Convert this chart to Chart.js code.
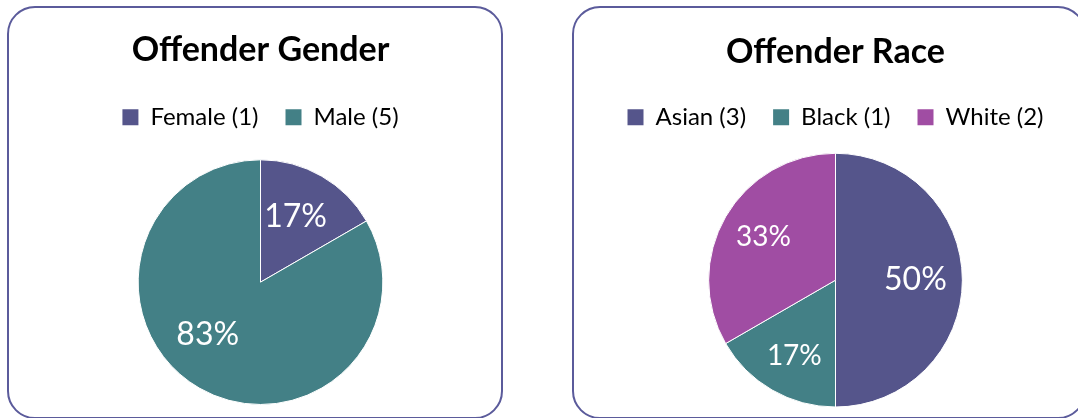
<!DOCTYPE html>
<html>
<head>
<meta charset="utf-8">
<script src="https://cdn.jsdelivr.net/npm/chart.js@4.4.1/dist/chart.umd.min.js"></script>
<style>
  html, body { margin: 0; padding: 0; background: #fff; overflow: hidden; }
  body { width: 1078px; height: 418px; position: relative; }
  .panel {
    position: absolute; top: 6px; height: 413px;
    box-sizing: border-box; border: 2px solid #5b5b9b; border-radius: 28px;
  }
  .panel canvas { position: absolute; left: 0; top: 0; }
</style>
</head>
<body>
<div class="panel" style="left:7px; width:496px;"><canvas id="genderChart" width="492" height="409"></canvas></div>
<div class="panel" style="left:572px; width:514px;"><canvas id="raceChart" width="510" height="409"></canvas></div>
<script>
// Data
const genderLabels = ["Female", "Male"];
const genderCounts = [1, 5];
const raceLabels = ["Asian", "Black", "White"];
const raceCounts = [3, 1, 2];

const PURPLE = "#55558b";
const TEAL = "#438086";
const MAGENTA = "#a04da3";
const FONT = "Lato, 'Open Sans', sans-serif";

// white % labels inside slices
const sliceLabels = {
  id: "sliceLabels",
  afterDatasetsDraw(chart, args, opts) {
    const ctx = chart.ctx;
    const meta = chart.getDatasetMeta(0);
    const data = chart.data.datasets[0].data;
    const total = data.reduce((a, b) => a + b, 0);
    ctx.save();
    ctx.fillStyle = "#fff";
    ctx.textAlign = "center";
    ctx.textBaseline = "middle";
    meta.data.forEach((arc, i) => {
      const mid = (arc.startAngle + arc.endAngle) / 2 + (opts.shift[i] || 0) * Math.PI / 180;
      const r = arc.outerRadius * opts.dist[i];
      ctx.font = opts.sizes[i] + "px " + FONT;
      ctx.fillText(Math.round(data[i] / total * 100) + "%", arc.x + Math.cos(mid) * r, arc.y + Math.sin(mid) * r);
    });
    ctx.restore();
  }
};

function makePie(el, labels, counts, colors, cfg) {
  return new Chart(el, {
    type: "pie",
    data: {
      labels: labels,
      datasets: [{
        data: counts,
        backgroundColor: colors,
        borderColor: "#ffffff",
        borderWidth: 1
      }]
    },
    plugins: [sliceLabels],
    options: {
      responsive: false,
      animation: false,
      events: [],
      layout: { padding: { left: cfg.padLeft, right: 0, top: 0, bottom: cfg.padBottom } },
      plugins: {
        title: {
          display: true,
          text: cfg.title,
          color: "#000",
          font: { family: FONT, size: 34, weight: "bold", lineHeight: 1.2 },
          padding: { top: cfg.titleTop, bottom: cfg.titleBottom }
        },
        // empty spacer between legend and pie
        subtitle: {
          display: true,
          text: "",
          weight: 500,
          font: { size: 10, lineHeight: 1 },
          padding: { top: 0, bottom: cfg.gap - 10 }
        },
        legend: {
          position: "top",
          labels: {
            color: "#000",
            font: { family: FONT, size: 24 },
            boxWidth: 16,
            boxHeight: 16,
            padding: 27,
            generateLabels(chart) {
              const ds = chart.data.datasets[0];
              return chart.data.labels.map((l, i) => ({
                text: l + " (" + ds.data[i] + ")",
                fillStyle: ds.backgroundColor[i],
                strokeStyle: ds.backgroundColor[i],
                lineWidth: 0,
                index: i
              }));
            }
          }
        },
        tooltip: { enabled: false },
        sliceLabels: cfg.labelOpts
      }
    }
  });
}

makePie(document.getElementById("genderChart"), genderLabels, genderCounts, [PURPLE, TEAL], {
  title: "Offender Gender",
  padLeft: 11, padBottom: 12,
  titleTop: 21.5, titleBottom: 8, gap: 20,
  labelOpts: { dist: [0.61, 0.61], shift: [-2, 15], sizes: [32, 32] }
});

makePie(document.getElementById("raceChart"), raceLabels, raceCounts, [PURPLE, TEAL, MAGENTA], {
  title: "Offender Race",
  padLeft: 13, padBottom: 9.5,
  titleTop: 23.5, titleBottom: 6, gap: 13.5,
  labelOpts: { dist: [0.63, 0.68, 0.66], shift: [0, -1.5, 0.7], sizes: [32, 28, 28] }
});
</script>
</body>
</html>
